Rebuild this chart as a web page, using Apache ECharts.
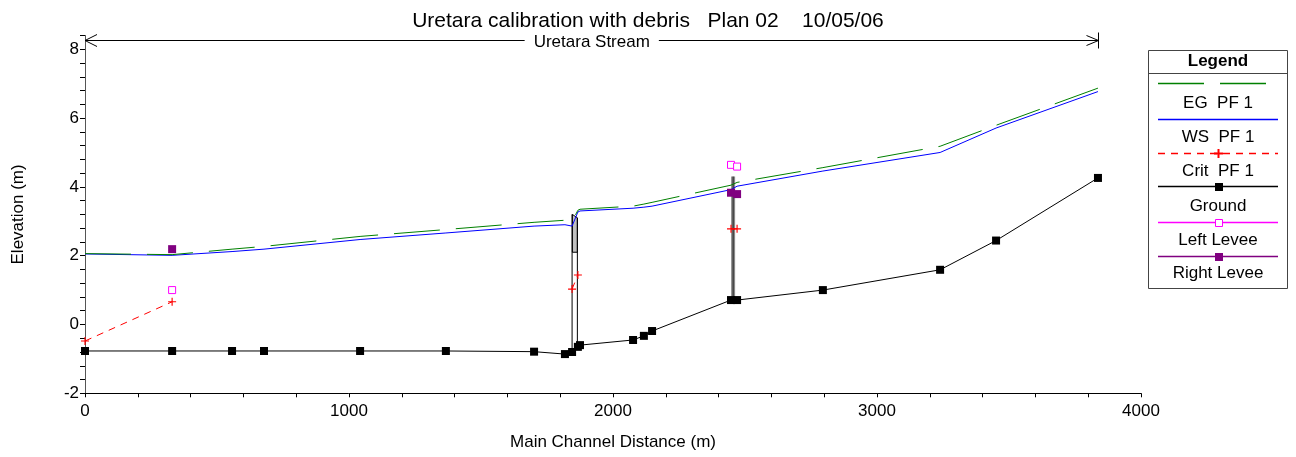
<!DOCTYPE html>
<html><head><meta charset="utf-8">
<script src="https://cdn.jsdelivr.net/npm/echarts@6/dist/echarts.min.js"></script>
<style>html,body{margin:0;padding:0;background:#fff}#c{width:1296px;height:457px}</style>
</head><body><div id="c"></div>
<script>
// ---- data ----
const stations   = [0, 330, 557, 678, 1042, 1367, 1701, 1818, 1845, 1867, 1875, 2076, 2117, 2148, 2447, 2470, 2795, 3239, 3451, 3837];
const groundElev = [-0.77, -0.77, -0.77, -0.77, -0.77, -0.77, -0.79, -0.86, -0.80, -0.65, -0.60, -0.45, -0.33, -0.19, 0.71, 0.71, 1.00, 1.59, 2.44, 4.26];
const wsPF1      = [2.05, 2.01, 2.12, 2.19, 2.47, 2.66, 2.86, 2.90, 2.86, 3.27, 3.30, 3.38, 3.41, 3.44, 3.92, 4.02, 4.46, 5.00, 5.71, 6.77];
const egPF1      = [2.06, 2.03, 2.19, 2.27, 2.56, 2.76, 2.97, 3.03, 3.00, 3.32, 3.35, 3.44, 3.50, 3.55, 4.05, 4.13, 4.56, 5.18, 5.79, 6.87];
const critPF1    = [-0.48, 0.66, null, null, null, null, null, null, 1.03, 1.44, null, null, null, null, 2.78, 2.78, null, null, null, null];
const leftLevee  = [null, 1.00, null, null, null, null, null, null, null, null, null, null, null, null, 4.64, 4.59, null, null, null, null];
const rightLevee = [null, 2.19, null, null, null, null, null, null, null, null, null, null, null, null, 3.83, 3.79, null, null, null, null];
// bridge at ~1856 m: [upstream x, downstream x, low chord, deck top up, deck top down]
const bridgeDeck = [[1846, 1865, 2.10, 3.20, 3.10]];
const bridgeUpFace = [[1845, -0.80], [1845, 3.20]];
const bridgeDnFace = [[1865, -0.62], [1865, 3.10]];
// inline structure at ~2455 m
const weirFace = [[2455, 0.71], [2455, 4.30]];
// reach arrow: [start station, end station, elevation]
const reachArrow = [[0, 3837, 8.27]];
const reachName = 'Uretara Stream';
const xTicks = [0, 1000, 2000, 3000, 4000];
const yTicks = [-2, 0, 2, 4, 6, 8];
const legendLabels = ['EG  PF 1', 'WS  PF 1', 'Crit  PF 1', 'Ground', 'Left Levee', 'Right Levee'];

const FONT = 'Liberation Sans, Arial, sans-serif';
const pair = arr => stations.map((x, i) => [x, arr[i] == null ? '-' : arr[i]]);
const near = (v, list) => list.some(t => Math.abs(v - t) < 1e-6);

const chart = echarts.init(document.getElementById('c'), null, {renderer: 'canvas'});

function legendItems() {
  const L = 1158, R = 1278, C = 1218;
  const g = [
    {type: 'rect', shape: {x: 1148.5, y: 50.5, width: 139, height: 238}, style: {fill: '#fff', stroke: '#444', lineWidth: 1}, z: 100},
    {type: 'rect', shape: {x: 1149, y: 73, width: 138, height: 1}, style: {fill: '#444'}, z: 101},
    {type: 'text', x: C, y: 61, style: {text: 'Legend', font: 'bold 17px ' + FONT, fill: '#000', align: 'center', verticalAlign: 'middle'}, z: 101}
  ];
  const items = [
    {y: 83, color: '#008000', dash: [46, 16], ty: 103},
    {y: 119, color: '#0000ff', dash: null, ty: 137},
    {y: 153, color: '#ff0000', dash: [7, 6], ty: 171, mark: 'plus'},
    {y: 186, color: '#000000', dash: null, ty: 206, mark: 'fill', mc: '#000'},
    {y: 222, color: '#ff00ff', dash: null, ty: 240, mark: 'open', mc: '#ff00ff'},
    {y: 256, color: '#800080', dash: null, ty: 273, mark: 'fill', mc: '#800080'}
  ];
  items.forEach((it, k) => {
    const yy = it.y - 0.25, hh = 1.5;
    if (it.dash) {
      let x = L;
      while (x < R) {
        const w = Math.min(it.dash[0], R - x);
        g.push({type: 'rect', shape: {x: x, y: yy, width: w, height: hh}, style: {fill: it.color}, z: 101});
        x += it.dash[0] + it.dash[1];
      }
    } else {
      g.push({type: 'rect', shape: {x: L, y: yy, width: R - L, height: hh}, style: {fill: it.color}, z: 101});
    }
    if (it.mark === 'plus') {
      g.push({type: 'rect', shape: {x: C - 4, y: it.y - 0.5, width: 9, height: 2}, style: {fill: '#ff0000'}, z: 102});
      g.push({type: 'rect', shape: {x: C - 0.5, y: it.y - 4, width: 2, height: 9}, style: {fill: '#ff0000'}, z: 102});
    } else if (it.mark === 'fill') {
      g.push({type: 'rect', shape: {x: C - 3, y: it.y - 3, width: 8, height: 8}, style: {fill: it.mc}, z: 102});
    } else if (it.mark === 'open') {
      g.push({type: 'rect', shape: {x: C - 2.5, y: it.y - 2.5, width: 7, height: 7}, style: {fill: '#fff', stroke: it.mc, lineWidth: 1}, z: 102});
    }
    g.push({type: 'text', x: C, y: it.ty, style: {text: legendLabels[k], font: '17px ' + FONT, fill: '#000', align: 'center', verticalAlign: 'middle'}, z: 101});
  });
  return g;
}

const option = {
  animation: false,
  backgroundColor: '#fff',
  textStyle: {fontFamily: FONT},
  title: {
    text: 'Uretara calibration with debris   Plan 02    10/05/06',
    left: 'center', top: 6,
    textStyle: {fontSize: 21, fontWeight: 'normal', color: '#000', fontFamily: FONT}
  },
  grid: {left: 85, right: 155, top: 35.5, bottom: 63.7, containLabel: false},
  xAxis: {
    type: 'value', min: 0, max: 4000, interval: 200,
    name: 'Main Channel Distance (m)', nameLocation: 'middle', nameGap: 41,
    nameTextStyle: {fontSize: 17, color: '#000', fontFamily: FONT},
    axisLine: {show: true, onZero: false, lineStyle: {color: '#000', width: 1}},
    axisTick: {show: true, inside: false, length: 4, lineStyle: {color: '#000'}},
    axisLabel: {fontSize: 17, color: '#000', margin: 10, fontFamily: FONT,
      formatter: v => near(v, xTicks) ? String(Math.round(v)) : ''},
    splitLine: {show: false}
  },
  yAxis: {
    type: 'value', min: -2, max: 8.4, interval: 0.4,
    name: 'Elevation (m)', nameLocation: 'middle', nameGap: 58,
    nameTextStyle: {fontSize: 17, color: '#000', fontFamily: FONT},
    axisLine: {show: true, onZero: false, lineStyle: {color: '#555', width: 1}},
    axisTick: {show: true, inside: false, length: 5, lineStyle: {color: '#000'}},
    axisLabel: {fontSize: 17, color: '#000', margin: 6, fontFamily: FONT,
      formatter: v => near(v, yTicks) ? String(Math.round(v)) : ''},
    splitLine: {show: false}
  },
  graphic: legendItems(),
  series: [
    {name: 'bridgeDeck', type: 'custom', clip: false, z: 3, silent: true,
      data: bridgeDeck,
      renderItem: (params, api) => {
        const x0 = api.value(0), x1 = api.value(1), lo = api.value(2), t0 = api.value(3), t1 = api.value(4);
        const a = api.coord([x0, t0]), b = api.coord([x1, t1]), c = api.coord([x1, lo]), d = api.coord([x0, lo]);
        return {type: 'polygon', shape: {points: [a, b, c, d]}, style: {fill: '#c0c0c0', stroke: '#000', lineWidth: 1}};
      }},
    {name: 'bridgeUp', type: 'line', data: bridgeUpFace, showSymbol: false, silent: true, z: 4,
      lineStyle: {color: '#000', width: 1}},
    {name: 'bridgeDn', type: 'line', data: bridgeDnFace, showSymbol: false, silent: true, z: 4,
      lineStyle: {color: '#000', width: 1}},
    {name: 'weirOuter', type: 'line', data: weirFace, showSymbol: false, silent: true, z: 4,
      lineStyle: {color: '#8a8a8a', width: 4}},
    {name: 'weirInner', type: 'line', data: weirFace, showSymbol: false, silent: true, z: 4,
      lineStyle: {color: '#222', width: 1}},
    {name: 'Ground', type: 'line', data: pair(groundElev), symbol: 'rect', symbolSize: 8, showSymbol: true,
      lineStyle: {color: '#000', width: 1}, itemStyle: {color: '#000'}, z: 5},
    {name: 'WS  PF 1', type: 'line', data: pair(wsPF1), showSymbol: false,
      lineStyle: {color: '#0000ff', width: 1}, z: 6},
    {name: 'EG  PF 1', type: 'line', data: pair(egPF1), showSymbol: false,
      lineStyle: {color: '#008000', width: 1, type: [46, 16]}, z: 6},
    {name: 'Crit  PF 1', type: 'line', data: pair(critPF1), connectNulls: false,
      symbol: 'path://M3,0h1v3h3v1h-3v3h-1v-3h-3v-1h3z', symbolSize: 8, showSymbol: true,
      lineStyle: {color: '#ff0000', width: 1, type: [7, 6]}, itemStyle: {color: '#ff0000'}, z: 7},
    {name: 'Left Levee', type: 'line', data: pair(leftLevee), connectNulls: false,
      symbol: 'rect', symbolSize: 7, showSymbol: true,
      lineStyle: {color: '#ff00ff', width: 1}, itemStyle: {color: '#fff', borderColor: '#ff00ff', borderWidth: 1}, z: 8},
    {name: 'Right Levee', type: 'line', data: pair(rightLevee), connectNulls: false,
      symbol: 'rect', symbolSize: 8, showSymbol: true,
      lineStyle: {color: '#800080', width: 1}, itemStyle: {color: '#800080'}, z: 8},
    {name: 'reach', type: 'custom', clip: false, silent: true, z: 9,
      data: reachArrow,
      renderItem: (params, api) => {
        const p0 = api.coord([api.value(0), api.value(2)]);
        const p1 = api.coord([api.value(1), api.value(2)]);
        const y = Math.round(p0[1]) + 0.5, xa = p0[0], xb = Math.round(p1[0]) + 0.5;
        const st = {stroke: '#000', lineWidth: 1, fill: null};
        return {type: 'group', children: [
          {type: 'line', shape: {x1: xa, y1: y, x2: xb, y2: y}, style: st},
          {type: 'polyline', shape: {points: [[xa + 12, y - 6], [xa, y], [xa + 12, y + 6]]}, style: st},
          {type: 'polyline', shape: {points: [[xb - 12, y - 5], [xb, y], [xb - 12, y + 5]]}, style: st},
          {type: 'line', shape: {x1: xb, y1: y - 8, x2: xb, y2: y + 8}, style: st},
          {type: 'text', x: (xa + xb) / 2, y: y + 2, style: {text: reachName, font: '17px ' + FONT, fill: '#000',
            align: 'center', verticalAlign: 'middle', backgroundColor: '#fff', padding: [1, 9]}}
        ]};
      }}
  ]
};
chart.setOption(option);
</script>
</body></html>
